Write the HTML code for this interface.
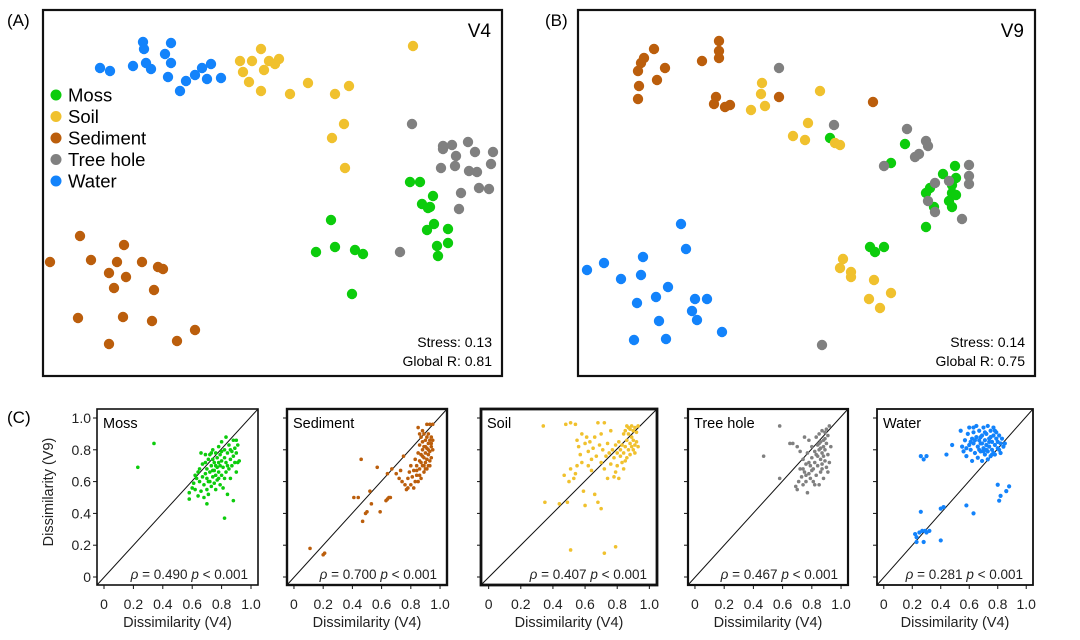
<!DOCTYPE html>
<html><head><meta charset="utf-8">
<style>
html,body{margin:0;padding:0;background:#fff;}
svg{display:block;font-family:"Liberation Sans",Arial,sans-serif;}
</style></head>
<body>
<svg id="fig" width="1080" height="640" viewBox="0 0 1080 640" xmlns="http://www.w3.org/2000/svg">
  <rect width="1080" height="640" fill="#fff"/>
  <text x="7" y="26" font-size="17">(A)</text>
  <text x="545" y="26" font-size="17">(B)</text>
  <text x="7" y="423" font-size="17">(C)</text>
  <g id="gA"></g>
  <g id="gB"></g>
  <g id="gC"></g>
</svg>
<script>
const groups = ["Moss","Soil","Sediment","Tree hole","Water"];
const groupColors = ["#0ccc0c","#f0c12e","#bb5e0c","#808080","#1383fb"];

// NMDS scores, V4 (panel A)
const v4Moss=[[367,194],[377,194],[390,180],[379,172],[385,168],[387,169],[391,152],[384,146],[405,147],[394,130],[405,133],[395,120],[288,156],[273,124],[292,129],[312,126],[320,122],[309,82]];
const v4Soil=[[218,327],[197,315],[209,315],[226,315],[236,317],[232,312],[221,306],[200,304],[206,294],[218,285],[247,282],[265,293],[292,282],[306,290],[370,330],[301,252],[289,238],[302,208]];
const v4Sediment=[[37,140],[81,131],[7,114],[48,116],[74,114],[99,114],[115,109],[120,107],[66,103],[83,99],[71,88],[111,86],[35,58],[80,59],[109,55],[152,46],[66,32],[134,35]];
const v4Tree=[[369,252],[400,230],[409,231],[425,234],[400,227],[413,220],[432,224],[450,224],[398,208],[412,210],[426,205],[434,204],[448,212],[418,183],[436,188],[446,187],[416,167],[357,124]];
const v4Water=[[57,308],[67,305],[100,334],[101,327],[128,333],[122,322],[90,310],[103,313],[108,307],[128,313],[125,299],[137,285],[143,295],[152,301],[159,308],[168,312],[164,297],[178,298]];
// NMDS scores, V9 (panel B)
const v9Moss=[[252,238],[327,232],[313,213],[377,210],[365,202],[378,198],[374,191],[352,188],[348,183],[374,183],[378,181],[371,175],[374,169],[356,169],[348,149],[292,129],[297,124],[306,129]];
const v9Soil=[[184,293],[183,282],[187,270],[173,266],[242,285],[230,253],[215,240],[227,236],[257,233],[262,231],[265,117],[262,108],[273,104],[273,99],[296,96],[313,83],[291,77],[302,68]];
const v9Sediment=[[76,327],[66,318],[63,313],[60,305],[87,308],[79,296],[61,290],[60,277],[124,315],[141,335],[141,325],[141,318],[138,279],[136,272],[147,269],[152,271],[201,279],[295,274]];
const v9Tree=[[201,308],[256,251],[329,247],[348,235],[350,230],[337,219],[341,222],[306,210],[391,211],[391,200],[391,192],[371,195],[357,193],[350,175],[357,164],[384,157],[244,31]];
const v9Water=[[103,152],[108,127],[65,119],[26,113],[9,106],[43,97],[63,101],[90,89],[78,79],[59,73],[117,77],[129,77],[114,65],[119,56],[81,55],[56,36],[88,37],[144,44]];

// Panel C: pairwise dissimilarity [V4, V9]
const cPanels=["Moss","Sediment","Soil","Tree hole","Water"];
const cRho=["0.490","0.700","0.407","0.467","0.281"];
const cTicks=[0,0.2,0.4,0.6,0.8,1.0];
const cTickLabels=["0","0.2","0.4","0.6","0.8","1.0"];
const mossPairs=[[0.23,0.69],[0.34,0.84],[0.82,0.37],[0.70,0.46],[0.88,0.48],[0.58,0.53],[0.58,0.49],[0.60,0.56],[0.61,0.59],[0.62,0.55],[0.63,0.62],[0.64,0.51],[0.65,0.60],[0.65,0.68],[0.66,0.54],[0.66,0.78],[0.67,0.63],[0.68,0.50],[0.68,0.58],[0.69,0.65],[0.69,0.72],[0.70,0.55],[0.70,0.62],[0.70,0.68],[0.71,0.74],[0.71,0.52],[0.72,0.60],[0.72,0.66],[0.72,0.77],[0.73,0.57],[0.73,0.70],[0.74,0.63],[0.74,0.74],[0.74,0.80],[0.75,0.59],[0.75,0.67],[0.75,0.72],[0.76,0.55],[0.76,0.64],[0.76,0.78],[0.77,0.61],[0.77,0.69],[0.77,0.75],[0.78,0.66],[0.78,0.72],[0.78,0.82],[0.79,0.58],[0.79,0.70],[0.79,0.77],[0.80,0.64],[0.80,0.73],[0.80,0.85],[0.81,0.56],[0.81,0.69],[0.82,0.62],[0.82,0.75],[0.82,0.80],[0.83,0.66],[0.83,0.72],[0.84,0.52],[0.84,0.78],[0.85,0.68],[0.85,0.83],[0.86,0.74],[0.86,0.62],[0.87,0.79],[0.87,0.70],[0.88,0.76],[0.88,0.86],[0.89,0.72],[0.89,0.81],[0.90,0.78],[0.90,0.66],[0.91,0.83],[0.92,0.73],[0.91,0.72],[0.90,0.86],[0.73,0.78],[0.69,0.77],[0.67,0.71],[0.64,0.66],[0.62,0.64],[0.71,0.60],[0.76,0.70],[0.80,0.79],[0.84,0.70],[0.86,0.80],[0.83,0.88],[0.74,0.67],[0.78,0.62]];
const sedimentPairs=[[0.11,0.18],[0.20,0.14],[0.21,0.15],[0.41,0.50],[0.44,0.50],[0.47,0.35],[0.49,0.40],[0.50,0.41],[0.53,0.46],[0.52,0.54],[0.59,0.41],[0.46,0.74],[0.57,0.69],[0.63,0.48],[0.64,0.49],[0.65,0.50],[0.66,0.50],[0.64,0.65],[0.67,0.68],[0.70,0.65],[0.72,0.62],[0.74,0.60],[0.75,0.76],[0.73,0.67],[0.76,0.58],[0.77,0.55],[0.78,0.62],[0.78,0.56],[0.79,0.66],[0.80,0.58],[0.80,0.70],[0.81,0.63],[0.82,0.56],[0.82,0.67],[0.83,0.60],[0.83,0.74],[0.84,0.64],[0.84,0.70],[0.85,0.78],[0.85,0.60],[0.85,0.94],[0.86,0.68],[0.86,0.73],[0.86,0.83],[0.87,0.62],[0.87,0.77],[0.87,0.88],[0.88,0.70],[0.88,0.80],[0.88,0.85],[0.89,0.66],[0.89,0.75],[0.89,0.82],[0.89,0.90],[0.90,0.72],[0.90,0.78],[0.90,0.86],[0.90,0.68],[0.91,0.74],[0.91,0.81],[0.91,0.88],[0.91,0.96],[0.92,0.70],[0.92,0.77],[0.92,0.84],[0.92,0.80],[0.93,0.73],[0.93,0.86],[0.93,0.79],[0.93,0.96],[0.94,0.82],[0.94,0.75],[0.94,0.88],[0.94,0.84],[0.95,0.80],[0.95,0.86],[0.95,0.96],[0.88,0.76],[0.87,0.72],[0.86,0.64],[0.84,0.67],[0.90,0.82],[0.92,0.90],[0.89,0.70],[0.91,0.68],[0.93,0.70],[0.88,0.92],[0.86,0.90]];
const soilPairs=[[0.34,0.95],[0.35,0.47],[0.44,0.46],[0.49,0.47],[0.51,0.17],[0.72,0.15],[0.79,0.19],[0.60,0.45],[0.68,0.47],[0.70,0.43],[0.66,0.52],[0.59,0.54],[0.50,0.60],[0.47,0.64],[0.51,0.68],[0.53,0.62],[0.55,0.70],[0.54,0.65],[0.58,0.72],[0.48,0.96],[0.51,0.97],[0.54,0.96],[0.55,0.86],[0.56,0.82],[0.57,0.77],[0.58,0.90],[0.60,0.84],[0.61,0.88],[0.62,0.79],[0.62,0.70],[0.63,0.85],[0.64,0.74],[0.64,0.67],[0.65,0.81],[0.66,0.88],[0.67,0.76],[0.68,0.97],[0.69,0.83],[0.70,0.72],[0.70,0.90],[0.71,0.80],[0.72,0.97],[0.72,0.68],[0.73,0.76],[0.74,0.84],[0.74,0.62],[0.75,0.78],[0.76,0.71],[0.76,0.92],[0.77,0.80],[0.78,0.63],[0.78,0.75],[0.79,0.83],[0.80,0.70],[0.80,0.78],[0.81,0.62],[0.81,0.85],[0.82,0.76],[0.82,0.80],[0.83,0.72],[0.83,0.83],[0.84,0.78],[0.84,0.68],[0.85,0.82],[0.85,0.92],[0.86,0.75],[0.86,0.86],[0.86,0.95],[0.87,0.80],[0.87,0.90],[0.88,0.84],[0.88,0.93],[0.88,0.77],[0.89,0.82],[0.89,0.95],[0.89,0.88],[0.90,0.80],[0.90,0.92],[0.90,0.86],[0.91,0.83],[0.91,0.94],[0.91,0.78],[0.92,0.85],[0.92,0.91],[0.93,0.82],[0.93,0.95],[0.87,0.94],[0.84,0.90],[0.85,0.73],[0.79,0.66]];
const treePairs=[[0.47,0.76],[0.58,0.95],[0.58,0.62],[0.65,0.84],[0.67,0.84],[0.70,0.82],[0.69,0.57],[0.70,0.55],[0.71,0.60],[0.72,0.68],[0.72,0.79],[0.73,0.63],[0.74,0.74],[0.74,0.58],[0.75,0.88],[0.75,0.66],[0.76,0.71],[0.76,0.60],[0.77,0.53],[0.77,0.78],[0.78,0.65],[0.78,0.86],[0.79,0.70],[0.79,0.62],[0.80,0.75],[0.80,0.82],[0.81,0.60],[0.81,0.68],[0.82,0.79],[0.82,0.72],[0.83,0.88],[0.83,0.64],[0.84,0.76],[0.84,0.83],[0.84,0.70],[0.85,0.58],[0.85,0.80],[0.85,0.90],[0.86,0.74],[0.86,0.66],[0.86,0.85],[0.87,0.78],[0.87,0.92],[0.87,0.71],[0.88,0.82],[0.88,0.62],[0.88,0.76],[0.89,0.87],[0.89,0.73],[0.89,0.80],[0.90,0.69],[0.90,0.84],[0.90,0.93],[0.91,0.77],[0.91,0.89],[0.92,0.72],[0.92,0.95],[0.93,0.82],[0.91,0.66],[0.83,0.77],[0.86,0.81],[0.88,0.86],[0.85,0.84],[0.80,0.67],[0.78,0.72],[0.76,0.64],[0.74,0.68],[0.82,0.58],[0.87,0.68],[0.89,0.91]];
const waterPairs=[[0.26,0.76],[0.28,0.74],[0.30,0.76],[0.44,0.77],[0.48,0.83],[0.54,0.92],[0.80,0.58],[0.88,0.57],[0.86,0.54],[0.82,0.51],[0.81,0.48],[0.58,0.45],[0.63,0.40],[0.26,0.41],[0.40,0.43],[0.42,0.44],[0.22,0.27],[0.23,0.25],[0.25,0.28],[0.27,0.29],[0.29,0.29],[0.30,0.28],[0.32,0.29],[0.28,0.22],[0.23,0.22],[0.40,0.23],[0.55,0.82],[0.56,0.79],[0.57,0.86],[0.58,0.76],[0.59,0.90],[0.60,0.83],[0.60,0.94],[0.61,0.80],[0.62,0.87],[0.62,0.73],[0.63,0.91],[0.63,0.84],[0.64,0.78],[0.65,0.88],[0.65,0.95],[0.66,0.82],[0.66,0.75],[0.67,0.86],[0.67,0.92],[0.68,0.79],[0.68,0.84],[0.69,0.89],[0.69,0.73],[0.70,0.94],[0.70,0.81],[0.71,0.86],[0.71,0.77],[0.72,0.90],[0.72,0.83],[0.73,0.95],[0.73,0.79],[0.74,0.87],[0.74,0.82],[0.75,0.92],[0.75,0.76],[0.76,0.85],[0.76,0.80],[0.77,0.89],[0.77,0.94],[0.78,0.83],[0.78,0.77],[0.79,0.87],[0.79,0.91],[0.80,0.81],[0.80,0.85],[0.81,0.89],[0.82,0.84],[0.82,0.78],[0.83,0.87],[0.84,0.82],[0.85,0.84],[0.77,0.78],[0.76,0.77],[0.74,0.85],[0.71,0.91],[0.68,0.88],[0.64,0.86],[0.72,0.80],[0.69,0.84],[0.75,0.88],[0.73,0.74],[0.67,0.80],[0.61,0.85],[0.58,0.81],[0.63,0.94],[0.78,0.92],[0.81,0.80],[0.70,0.79]];

const NS="http://www.w3.org/2000/svg";
function mk(tag,attrs,parent){const e=document.createElementNS(NS,tag);for(const k in attrs)e.setAttribute(k,attrs[k]);parent.appendChild(e);return e;}

function nmds(g,box,series,label,stress,gr,legend){
  const sx=v=>box.x+v/box.dx*box.w, sy=v=>box.y+box.h-v/box.dy*box.h;
  const fr=mk('rect',{x:box.x,y:box.y,width:box.w,height:box.h,fill:'none',stroke:'#111','stroke-width':2.2},g);
  
  
  series.forEach((pts,i)=>{
    pts.forEach(p=>{
      const c=mk('circle',{cx:sx(p[0]),cy:sy(p[1]),r:5.2,fill:groupColors[i]},g);
      
      
    });
  });
  const t=mk('text',{x:box.x+box.w-11,y:box.y+27,'font-size':19,'text-anchor':'end'},g);t.textContent=label;
  
  
  const s1=mk('text',{x:box.x+box.w-10,y:box.y+337,'font-size':14,'text-anchor':'end'},g);s1.textContent=stress;
  
  
  const s2=mk('text',{x:box.x+box.w-10,y:box.y+356,'font-size':14,'text-anchor':'end'},g);s2.textContent=gr;
  
  
  if(legend){
    groups.forEach((n,i)=>{
      const y=95+i*21.5;
      const d=mk('circle',{cx:56,cy:y,r:5.5,fill:groupColors[i]},g);
      
      
      const lt=mk('text',{x:68,y:y+6.5,'font-size':18.5},g);lt.textContent=n;
      
      
    });
  }
}
nmds(document.getElementById('gA'),{x:43,y:10,w:459,h:366,dx:459,dy:366},[v4Moss,v4Soil,v4Sediment,v4Tree,v4Water],'V4','Stress: 0.13','Global R: 0.81',true);
nmds(document.getElementById('gB'),{x:578,y:10,w:457,h:366,dx:457,dy:366},[v9Moss,v9Soil,v9Sediment,v9Tree,v9Water],'V9','Stress: 0.14','Global R: 0.75',false);

// Panel C
const gC=document.getElementById('gC');
const cData=[mossPairs,sedimentPairs,soilPairs,treePairs,waterPairs];
const cColorIdx=[0,2,1,3,4];
const cLefts=[97,287,481,688,877], cWidths=[161,160,176,160,156], cStroke=[1.6,2.4,2.8,2.2,1.8];
const cTop=409,cBot=585;
cPanels.forEach((name,k)=>{
  const L=cLefts[k],W=cWidths[k];
  const x0=L+7*W/161, x1=L+154*W/161;
  const sx=v=>x0+v*(x1-x0), sy=v=>577-v*159;
  const g=mk('g',{},gC);
  
  
  const dl=mk('line',{x1:L,y1:cBot,x2:L+W,y2:cTop,stroke:'#111','stroke-width':1},g);
  
  
  cData[k].forEach(p=>{
    const c=mk('circle',{cx:sx(p[0]),cy:sy(p[1]),r:k===4?2.1:1.8,fill:groupColors[cColorIdx[k]]},g);
    
    
  });
  const fr=mk('rect',{x:L,y:cTop,width:W,height:cBot-cTop,fill:'none',stroke:'#111','stroke-width':cStroke[k]},g);
  
  
  cTicks.forEach((v,i)=>{
    const tx=mk('line',{x1:sx(v),y1:cBot,x2:sx(v),y2:cBot+4,stroke:'#111','stroke-width':1},g);
    
    
    const tl=mk('text',{x:sx(v),y:609,'font-size':14,'text-anchor':'middle',fill:'#222'},g);tl.textContent=cTickLabels[i];
    
    
    const ty=mk('line',{x1:L-4,y1:sy(v),x2:L,y2:sy(v),stroke:'#111','stroke-width':1},g);
    
    
    if(k===0){
      const yl=mk('text',{x:91,y:sy(v)+5,'font-size':14,'text-anchor':'end',fill:'#222'},g);yl.textContent=cTickLabels[i];
      
      
    }
  });
  const nt=mk('text',{x:L+6,y:428,'font-size':14.5},g);nt.textContent=name;
  
  
  const rt=mk('text',{x:L+W-10,y:579,'font-size':13.5,'text-anchor':'end',fill:'#222'},g);
  rt.innerHTML='<tspan font-style="italic">ρ</tspan> = '+cRho[k]+' <tspan font-style="italic">p</tspan> &lt; 0.001';
  
  
  const xt=mk('text',{x:(x0+x1)/2,y:627,'font-size':14.5,'text-anchor':'middle',fill:'#222'},g);xt.textContent='Dissimilarity (V4)';
  
  
});
const yt=mk('text',{x:0,y:0,'font-size':14.5,'text-anchor':'middle',fill:'#222',transform:'translate(53,492) rotate(-90)'},gC);
yt.textContent='Dissimilarity (V9)';


</script>
</body></html>
